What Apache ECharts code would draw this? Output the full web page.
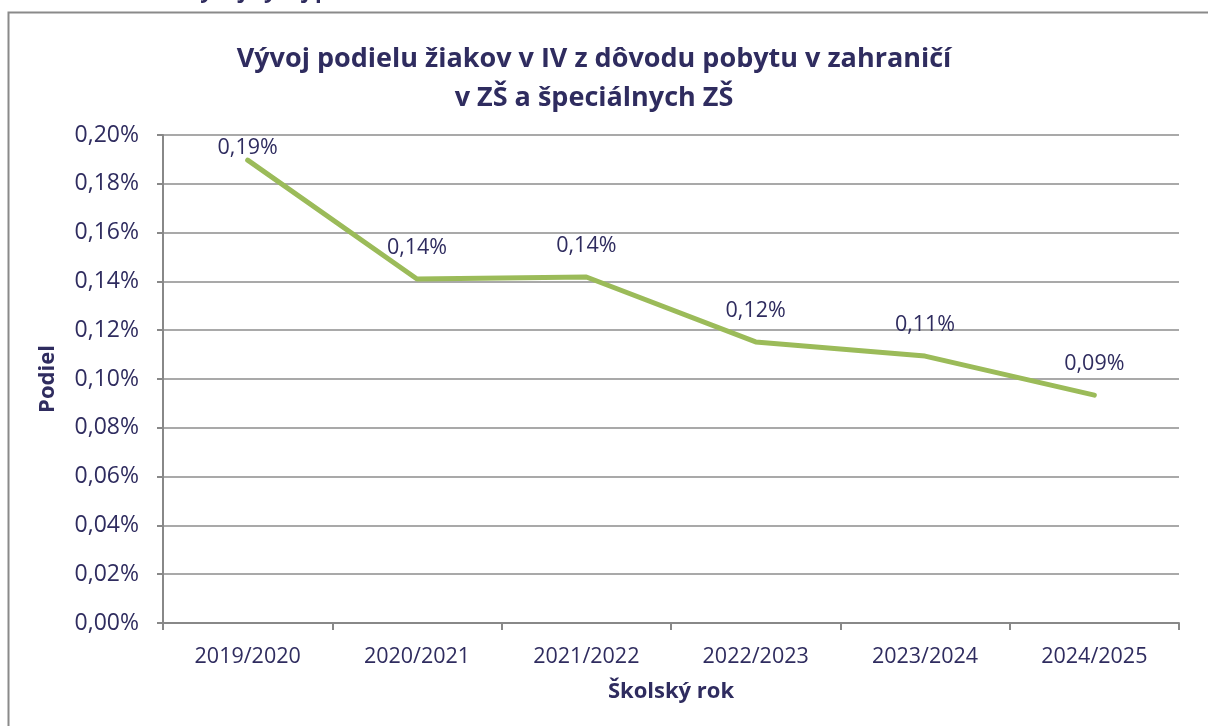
<!DOCTYPE html>
<html>
<head>
<meta charset="utf-8">
<script src="https://cdn.jsdelivr.net/npm/echarts@6/dist/echarts.min.js"></script>
<style>
html,body{margin:0;padding:0;background:#fff;}
#chart{width:1208px;height:726px;}
</style>
</head>
<body>
<div id="chart"></div>
<script>
const categories = ['2019/2020','2020/2021','2021/2022','2022/2023','2023/2024','2024/2025'];
const shareValues = [0.1897, 0.1410, 0.1418, 0.1152, 0.1094, 0.0934];
const yTicks = { min: 0, max: 0.2, interval: 0.02 };

const navy = '#2F2C5F';
const font = '"Open Sans", Lato, sans-serif';
const fmt = v => v.toFixed(2).replace('.', ',') + '%';

const seriesData = shareValues.map((v, i) => ({
  value: v,
  label: { show: true, distance: i === 0 ? 1 : 20 }
}));

const chart = echarts.init(document.getElementById('chart'));
chart.setOption({
  animation: false,
  backgroundColor: '#fff',
  title: {
    text: 'Vývoj podielu žiakov v IV z dôvodu pobytu v zahraničí\nv ZŠ a špeciálnych ZŠ',
    left: 589, top: 35, textAlign: 'center',
    textStyle: { fontFamily: font, fontWeight: 'bold', fontSize: 27, color: navy, lineHeight: 39 }
  },
  graphic: [
    { type: 'rect', shape: { x: 8.5, y: 12.5, width: 1400, height: 900 },
      style: { fill: 'none', stroke: '#8a8a8a', lineWidth: 2 }, silent: true },
    { type: 'text', left: 186, top: -19,
      style: { text: 'Vývoj vývoj p', font: 'bold 22px ' + font, fill: navy } }
  ],
  grid: { left: 163, right: 29, top: 135, bottom: 103 },
  xAxis: {
    type: 'category', data: categories, boundaryGap: true,
    name: 'Školský rok', nameLocation: 'middle', nameGap: 58,
    nameTextStyle: { fontFamily: font, fontWeight: 'bold', fontSize: 22, color: navy },
    axisLine: { lineStyle: { color: '#888', width: 2 } },
    axisTick: { show: true, alignWithLabel: false, length: 7, lineStyle: { color: '#888', width: 2 } },
    axisLabel: { fontFamily: font, fontSize: 21.5, color: navy, margin: 23 }
  },
  yAxis: {
    type: 'value', min: yTicks.min, max: yTicks.max, interval: yTicks.interval,
    name: 'Podiel', nameLocation: 'middle', nameGap: 104, nameRotate: 90,
    nameTextStyle: { fontFamily: font, fontWeight: 'bold', fontSize: 22, color: navy },
    axisLine: { show: true, lineStyle: { color: '#888', width: 2 } },
    axisTick: { show: true, length: 6, lineStyle: { color: '#888', width: 2 } },
    splitLine: { lineStyle: { color: '#8c8c8c', width: 1.5 } },
    axisLabel: { fontFamily: font, fontSize: 23, color: navy, margin: 24, formatter: fmt }
  },
  series: [{
    type: 'line', data: seriesData, symbol: 'circle', symbolSize: 0, showSymbol: true,
    itemStyle: { color: '#9BBB59' },
    lineStyle: { color: '#9BBB59', width: 5, cap: 'round', join: 'round' },
    label: { show: true, position: 'top', fontFamily: font, fontSize: 21.5, color: navy,
      formatter: p => fmt(p.value) }
  }]
});
</script>
</body>
</html>
